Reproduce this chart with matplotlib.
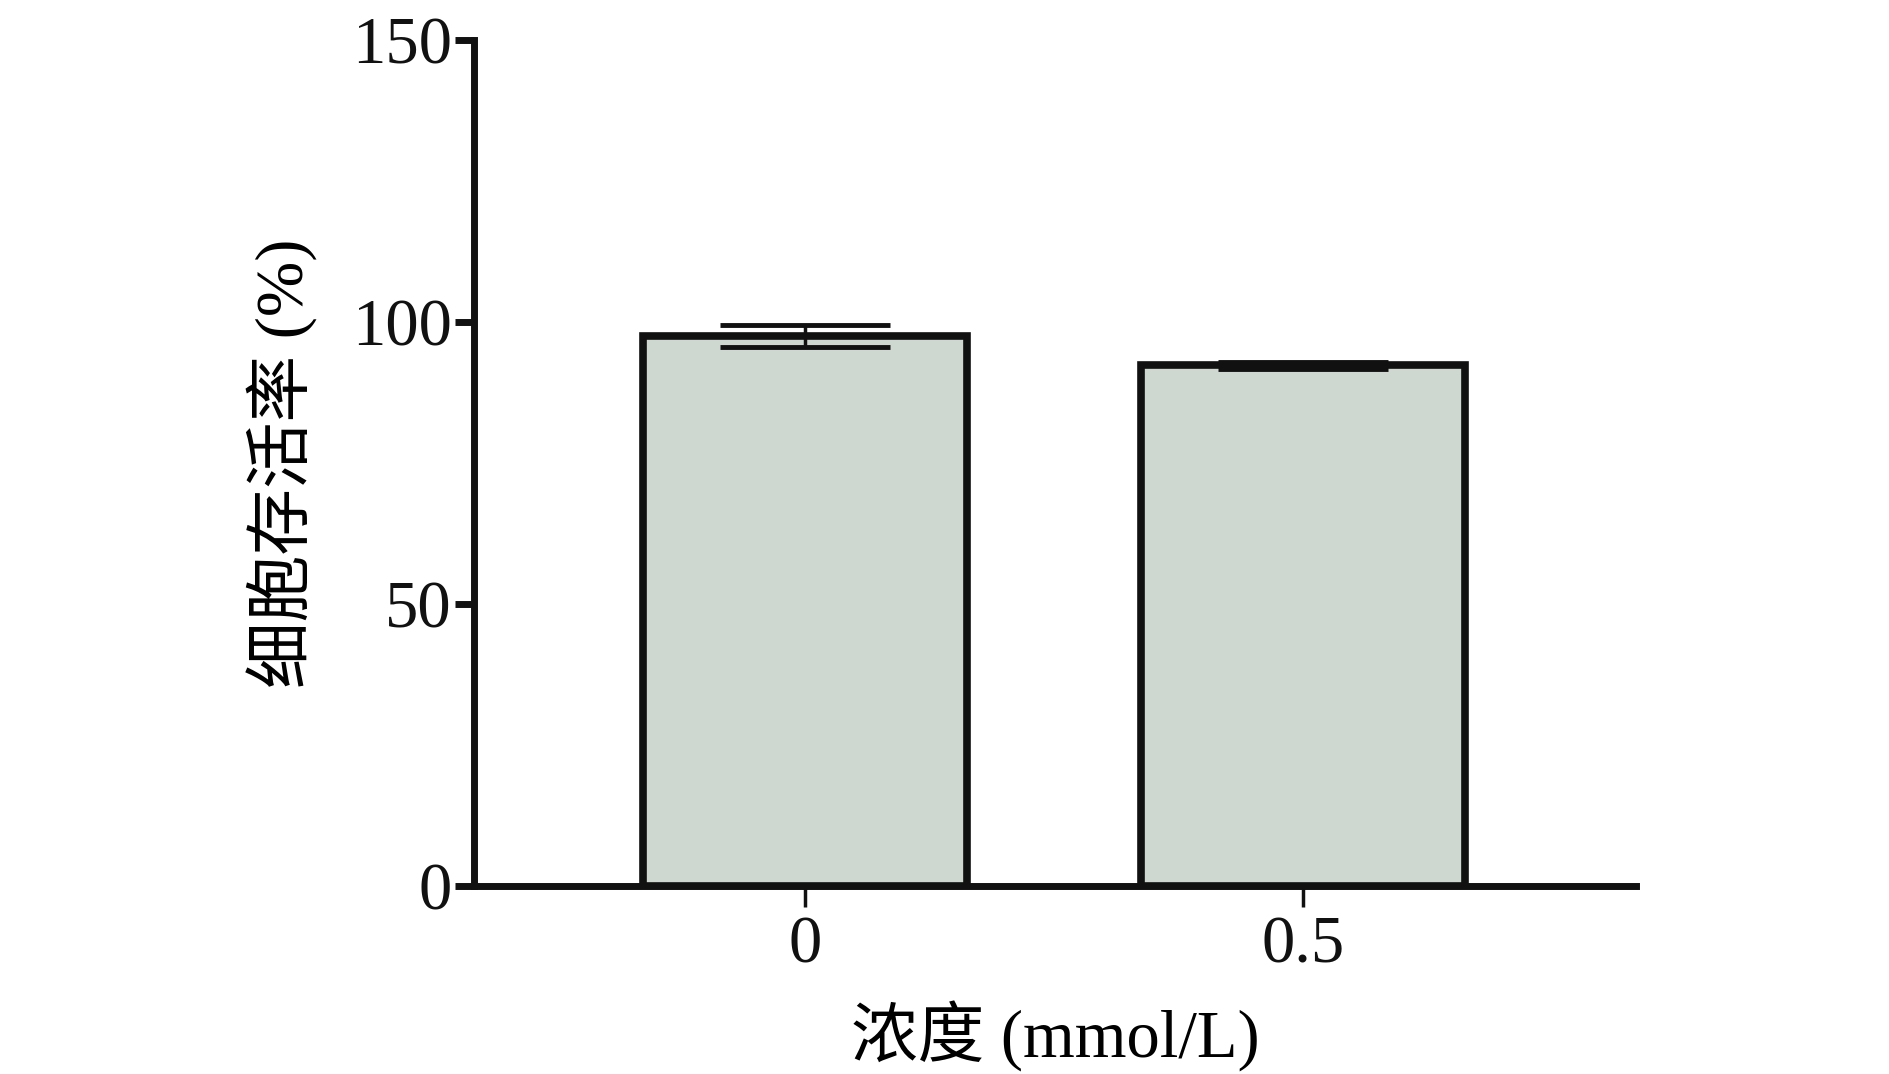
import matplotlib
matplotlib.use("Agg")
import matplotlib.pyplot as plt
import numpy as np

# data
categories = ["0", "0.5"]
viability = [97.5, 92.3]
sd = [2.0, 0.7]
yticks = [0, 50, 100, 150]

FONT = ["Liberation Serif", "Noto Sans CJK SC"]
plt.rcParams["font.family"] = FONT
BAR_COLOR = "#CED8D1"
EDGE = "#111111"

fig = plt.figure(figsize=(18.9, 10.74), dpi=100)
ax = fig.add_axes([0.2508, 0.175, 0.6148, 0.7877])

x = np.arange(len(categories))
ax.bar(x, viability, width=0.65, color=BAR_COLOR, edgecolor=EDGE,
       linewidth=5.5, zorder=2)
ax.errorbar(x, viability, yerr=sd, fmt="none", ecolor=EDGE,
            elinewidth=2.5, capsize=61, capthick=3.5, zorder=3)

ax.set_xlim(-0.665, 1.669)
ax.set_ylim(0, 150)
ax.set_xticks(x)
ax.set_xticklabels(categories)
ax.set_yticks(yticks)

for side in ["top", "right"]:
    ax.spines[side].set_visible(False)
for side in ["left", "bottom"]:
    ax.spines[side].set_linewidth(5)
    ax.spines[side].set_color(EDGE)

ax.tick_params(axis="y", length=14, width=5, labelsize=48, pad=2, colors=EDGE)
ax.tick_params(axis="x", length=15, width=2.5, labelsize=48, pad=6, colors=EDGE)

ax.set_xlabel("浓度 (mmol/L)", fontsize=48, labelpad=18, family=FONT)
ax.set_ylabel("细胞存活率 (%)", fontsize=48, labelpad=24, family=FONT)

fig.savefig("out.png", dpi=100)
